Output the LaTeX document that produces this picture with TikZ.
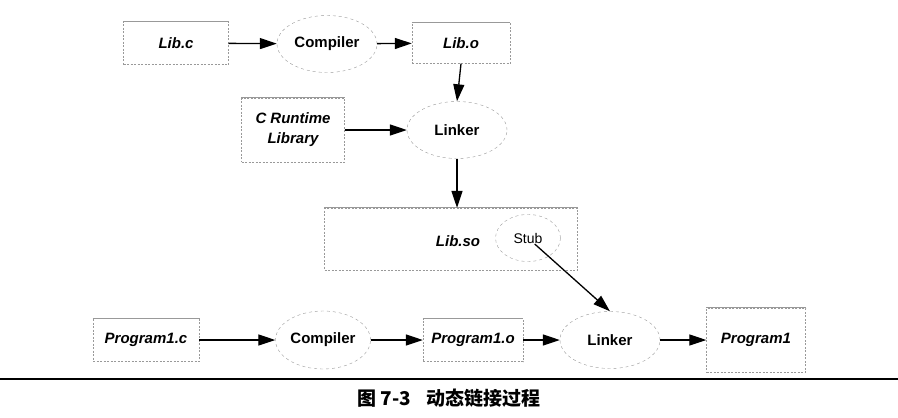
\documentclass[tikz,border=0pt]{standalone}
\usepackage{fontspec}
\setmainfont{Liberation Sans}
\newfontfamily\cjk{Noto Sans CJK SC}
\usepackage{tikz}
\usetikzlibrary{arrows.meta,shapes.geometric}
\tikzset{
	filebox/.style={rectangle, draw=gray!80, dash pattern=on 2pt off 1.5pt, inner sep=0pt, font=\fontsize{15}{20}\selectfont\bfseries\itshape, align=center},
	boxtop/.style={gray!80, line width=0.8pt},
	tool/.style={ellipse, draw=gray!80, dash pattern=on 3pt off 3pt, inner sep=0pt, minimum width=100pt, minimum height=57pt, font=\fontsize{15}{17}\selectfont\bfseries},
	flow/.style={-{Triangle[length=17pt,width=11pt]}, line width=1.3pt}
}

\begin{document}
\begin{tikzpicture}[x=1pt,y=-1pt]
		%%%%% START %%%%%
		\useasboundingbox (0,0) rectangle (898,418);
		
		\node[filebox, minimum width=105pt, minimum height=43pt] (libc) at (176,43) {Lib.c};
		\node[tool] (comp1) at (327,44) {Compiler};
		\node[filebox, minimum width=98pt, minimum height=41pt] (libo) at (461,43) {Lib.o};
		
		\node[filebox, minimum width=103pt, minimum height=64pt] (crt) at (293,130) {C Runtime\\Library};
		\node[tool] (link1) at (457,130) {Linker};
		
		\node[filebox, minimum width=253pt, minimum height=62pt] (libso) at (451,239) {};
		\node[font=\fontsize{15}{17}\selectfont\bfseries\itshape] (sotext) at (458,241) {Lib.so};
		\node[tool, minimum width=65pt, minimum height=47pt, font=\fontsize{14}{16}\selectfont] (stub) at (528,238) {Stub};
		
		\node[filebox, minimum width=106pt, minimum height=43pt] (prog1c) at (146,340) {Program1.c};
		\node[tool, minimum width=95pt, minimum height=58pt] (comp2) at (323,340) {Compiler};
		\node[filebox, minimum width=100pt, minimum height=43pt] (prog1o) at (473,340) {Program1.o};
		\node[tool] (link2) at (610,340) {Linker};
		\node[filebox, minimum width=99pt, minimum height=64pt] (prog1) at (756,340) {Program1};
		
		\foreach \n in {libc,libo,crt,libso,prog1c,prog1o,prog1}
			\draw[boxtop] (\n.north west) -- (\n.north east);
		
		\draw[flow] (libc) -- (comp1);
		\draw[flow] (comp1) -- (libo);
		\draw[flow] (libo.south) -- (link1.north);
		\draw[flow] (crt) -- (link1);
		\draw[flow] (link1.south) -- (link1.south |- libso.north);
		\draw[flow, shorten <=9pt] (stub.center) -- (link2.north);
		
		\draw[flow] (prog1c) -- (comp2);
		\draw[flow] (comp2) -- (prog1o);
		\draw[flow] (prog1o) -- (link2);
		\draw[flow] (link2) -- (prog1);
		
		\draw[line width=2pt] (0,379) -- (898,379);
		\node[font=\cjk\bfseries\fontsize{19}{21}\selectfont] (caption) at (449,398) {图 7-3\hspace{16pt}动态链接过程};
		%%%%% END %%%%%
	\end{tikzpicture}
\end{document}
